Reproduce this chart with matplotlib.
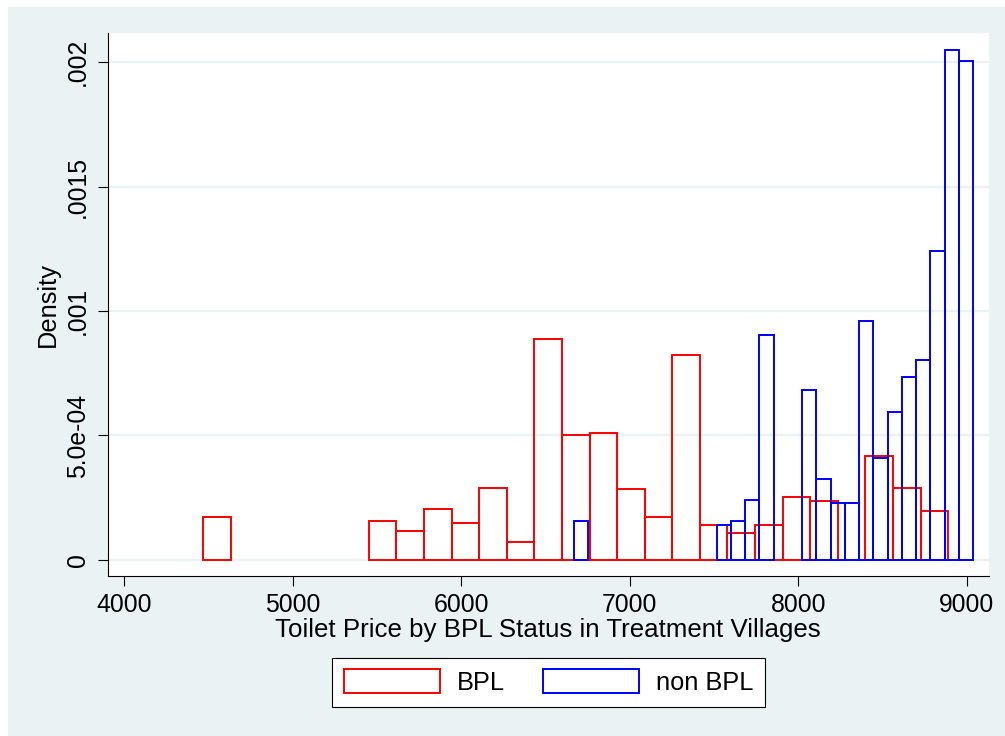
import matplotlib
matplotlib.use("Agg")

import matplotlib.pyplot as plt
import numpy as np
from matplotlib.patches import Patch, Rectangle

# -----------------------------
# Datos (densidades)
# -----------------------------

bpl_start = 4469
bpl_width = 163.7
bpl_density = [
    1.73e-4, 0, 0, 0, 0, 0, 1.57e-4, 1.18e-4, 2.05e-4, 1.49e-4,
    2.89e-4, 7.1e-5, 8.86e-4, 5.02e-4, 5.09e-4, 2.84e-4, 1.73e-4, 8.23e-4,
    1.41e-4, 1.10e-4, 1.41e-4, 2.52e-4, 2.36e-4, 0, 4.18e-4, 2.91e-4, 1.97e-4,
]

nonbpl_start = 6669
nonbpl_width = 84.6
nonbpl_density = [
    1.57e-4, 0, 0, 0, 0, 0, 0, 0, 0, 0,
    1.41e-4, 1.57e-4, 2.40e-4, 9.05e-4, 0, 0, 6.81e-4, 3.26e-4, 2.28e-4, 2.28e-4,
    9.61e-4, 4.10e-4, 5.94e-4, 7.35e-4, 8.05e-4, 1.241e-3, 2.048e-3, 2.004e-3,
]

x_ticks = [4000, 5000, 6000, 7000, 8000, 9000]
y_ticks = [0, 0.0005, 0.001, 0.0015, 0.002]
y_tick_labels = ["0", "5.0e-04", ".001", ".0015", ".002"]

series_labels = ["BPL", "non BPL"]
x_title = "Toilet Price by BPL Status in Treatment Villages"
y_title = "Density"

# -----------------------------
# Estilo
# -----------------------------

plt.rcParams["font.family"] = ["Liberation Sans", "DejaVu Sans"]

bg_color = "#EAF2F3"
red = "#FF0000"
blue = "#0000FF"

fig = plt.figure(figsize=(10.05, 7.36), dpi=100, facecolor="white")
fig.patches.append(
    Rectangle((8 / 1005, 0), 1, 1 - 7 / 736, transform=fig.transFigure,
              facecolor=bg_color, edgecolor="none", zorder=-10)
)

ax = fig.add_axes([108.3 / 1005, 160 / 736, 881 / 1005, 543 / 736])
ax.set_facecolor("white")


def draw_hist(start, width, density, color):
    density = np.asarray(density)
    lefts = start + width * np.arange(len(density))
    mask = density > 0
    ax.bar(lefts[mask], density[mask], width=width, align="edge",
           fill=False, edgecolor=color, linewidth=1.4, zorder=3)


draw_hist(bpl_start, bpl_width, bpl_density, red)
draw_hist(nonbpl_start, nonbpl_width, nonbpl_density, blue)

# -----------------------------
# Ejes
# -----------------------------

ax.set_xlim(3905, 9133.5)
ax.set_ylim(-6.43e-5, 2.1165e-3)

ax.set_xticks(x_ticks)
ax.set_yticks(y_ticks)
ax.set_yticklabels(y_tick_labels)

for yv in y_ticks:
    ax.axhline(yv, color=bg_color, linewidth=1.6, zorder=1)

for side in ["top", "right"]:
    ax.spines[side].set_visible(False)
for side in ["left", "bottom"]:
    ax.spines[side].set_linewidth(0.8)
    ax.spines[side].set_color("black")

ax.tick_params(axis="both", direction="out", length=7.5, width=0.8,
               labelsize=17.8, colors="black")
ax.tick_params(axis="x", pad=5)
ax.tick_params(axis="y", pad=6, labelrotation=90)
for lbl in ax.get_yticklabels():
    lbl.set_verticalalignment("center")

ax.set_xlabel(x_title, fontsize=18.6)
ax.xaxis.set_label_coords(0.4985, -0.078)
ax.set_ylabel(y_title, fontsize=18.3)
ax.yaxis.set_label_coords(-0.0548, 0.5)

# -----------------------------
# Leyenda
# -----------------------------

handles = [
    Patch(facecolor="white", edgecolor=red, linewidth=1.4, label=series_labels[0]),
    Patch(facecolor="white", edgecolor=blue, linewidth=1.4, label=series_labels[1]),
]

leg = fig.legend(
    handles=handles,
    loc="center",
    bbox_to_anchor=(548.5 / 1005, (736 - 682.3) / 736),
    ncol=2,
    fontsize=18.3,
    handlelength=3.8,
    handleheight=1.07,
    handletextpad=0.64,
    columnspacing=1.5,
    borderpad=0.45,
    frameon=True,
    fancybox=False,
    framealpha=1,
    edgecolor="black",
)
leg.get_frame().set_linewidth(0.8)

plt.savefig("out.png", dpi=100, facecolor=fig.get_facecolor())
plt.close("all")
